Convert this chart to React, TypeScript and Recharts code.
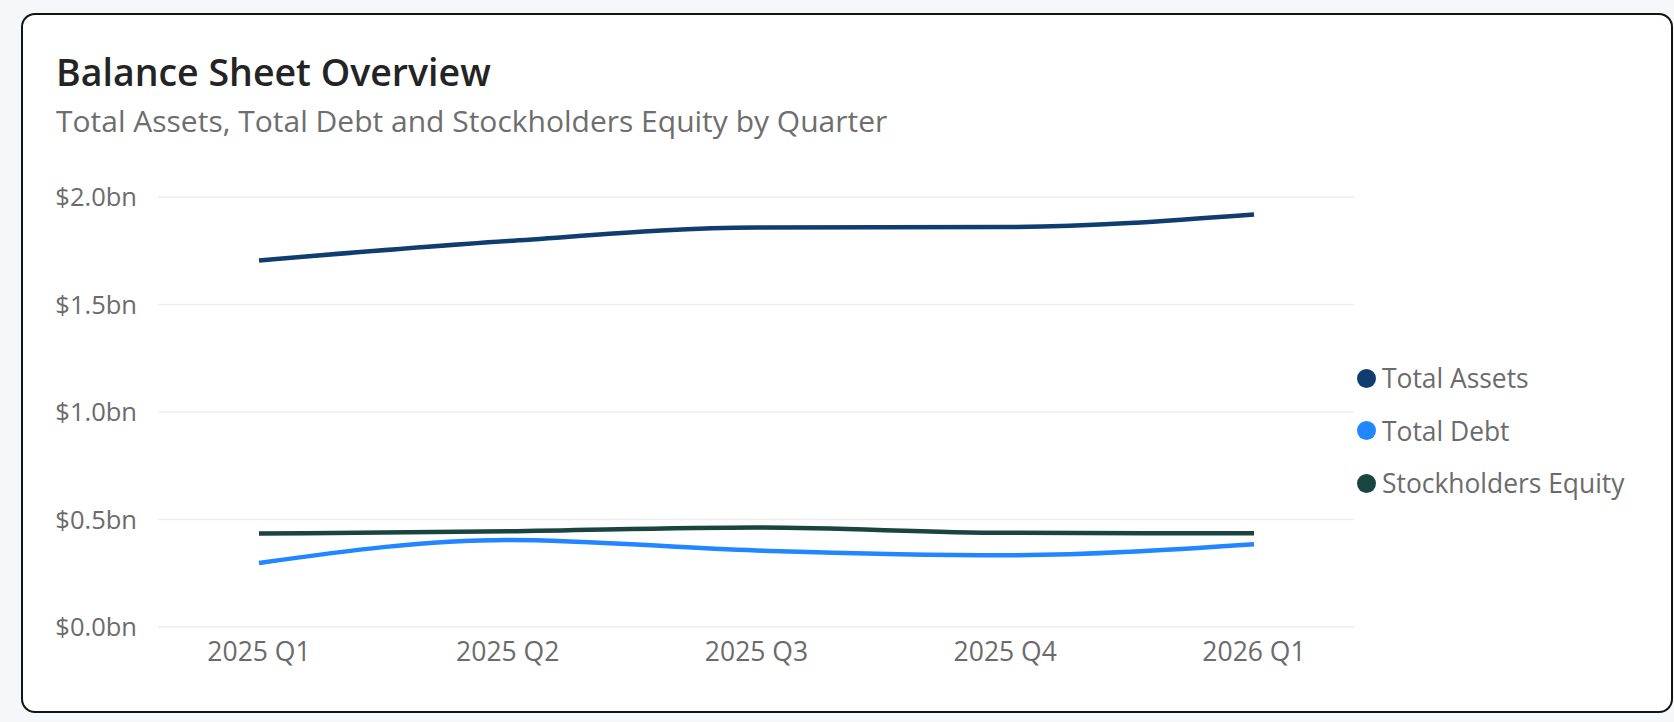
import { LineChart, Line, XAxis, YAxis, CartesianGrid, Legend } from 'recharts';

const quarters = ['2025 Q1', '2025 Q2', '2025 Q3', '2025 Q4', '2026 Q1'];
const totalAssets = [1.705, 1.795, 1.858, 1.86, 1.919];
const totalDebt = [0.298, 0.405, 0.356, 0.334, 0.385];
const stockholdersEquity = [0.435, 0.445, 0.463, 0.438, 0.436];
const yTicks = [0, 0.5, 1, 1.5, 2];

const series = [
  { key: 'assets', name: 'Total Assets', color: '#0f3d6f' },
  { key: 'debt', name: 'Total Debt', color: '#2186ff' },
  { key: 'equity', name: 'Stockholders Equity', color: '#1a443f' },
];

const data = quarters.map((q, i) => ({
  quarter: q,
  assets: totalAssets[i],
  debt: totalDebt[i],
  equity: stockholdersEquity[i],
}));

const font = '"Open Sans", sans-serif';
const order = series.map((s) => s.name);

function LegendList({ payload }: any) {
  const items = [...(payload || [])].sort((a: any, b: any) => order.indexOf(a.value) - order.indexOf(b.value));
  return (
    <div style={{ fontFamily: font }}>
      {items.map((p: any) => (
        <div key={p.value} style={{ display: 'flex', alignItems: 'center', height: 52.5 }}>
          <span
            style={{
              width: 19,
              height: 19,
              borderRadius: '50%',
              background: p.color,
              display: 'inline-block',
              marginRight: 6,
            }}
          />
          <span style={{ fontSize: 26.4, color: '#6b6b6b' }}>{p.value}</span>
        </div>
      ))}
    </div>
  );
}

export default function App() {
  return (
    <div style={{ position: 'fixed', left: 0, top: 0, width: 1674, height: 722, background: '#f5f7fb' }}>
      <div
        style={{
          position: 'absolute',
          left: 21,
          top: 13,
          width: 1652,
          height: 700,
          boxSizing: 'border-box',
          border: '2px solid #141414',
          borderRadius: 14,
          background: '#fff',
        }}
      />
      <div
        style={{
          position: 'absolute',
          left: 56,
          top: 53,
          fontFamily: font,
          fontWeight: 600,
          fontSize: 37.5,
          lineHeight: 1,
          color: '#242424',
          whiteSpace: 'nowrap',
        }}
      >
        Balance Sheet Overview
      </div>
      <div
        style={{
          position: 'absolute',
          left: 56,
          top: 106,
          fontFamily: font,
          fontSize: 30,
          lineHeight: 1,
          color: '#6e6e6e',
          whiteSpace: 'nowrap',
        }}
      >
        Total Assets, Total Debt and Stockholders Equity by Quarter
      </div>
      <div style={{ position: 'absolute', left: 0, top: 0 }}>
        <LineChart width={1674} height={722} data={data} margin={{ top: 197, right: 320, bottom: 65, left: 58 }}>
          <CartesianGrid vertical={false} stroke="#eeeeee" strokeWidth={1.5} />
          <XAxis
            dataKey="quarter"
            axisLine={false}
            tickLine={false}
            tickMargin={9}
            padding={{ left: 101, right: 100 }}
            tick={{ fill: '#6b6b6b', fontSize: 26.5, fontFamily: font }}
          />
          <YAxis
            width={100}
            domain={[0, 2]}
            ticks={yTicks}
            axisLine={false}
            tickLine={false}
            tickMargin={15}
            tickFormatter={(v: number) => `$${v.toFixed(1)}bn`}
            tick={{ fill: '#6b6b6b', fontSize: 25.5, fontFamily: font }}
          />
          <Legend
            layout="vertical"
            align="center"
            verticalAlign="middle"
            wrapperStyle={{ left: 1357, top: 352, width: 310 }}
            content={<LegendList />}
          />
          {series.map((s) => (
            <Line
              key={s.key}
              type="monotone"
              dataKey={s.key}
              name={s.name}
              stroke={s.color}
              strokeWidth={4.5}
              dot={false}
              activeDot={false}
              isAnimationActive={false}
            />
          ))}
        </LineChart>
      </div>
    </div>
  );
}
